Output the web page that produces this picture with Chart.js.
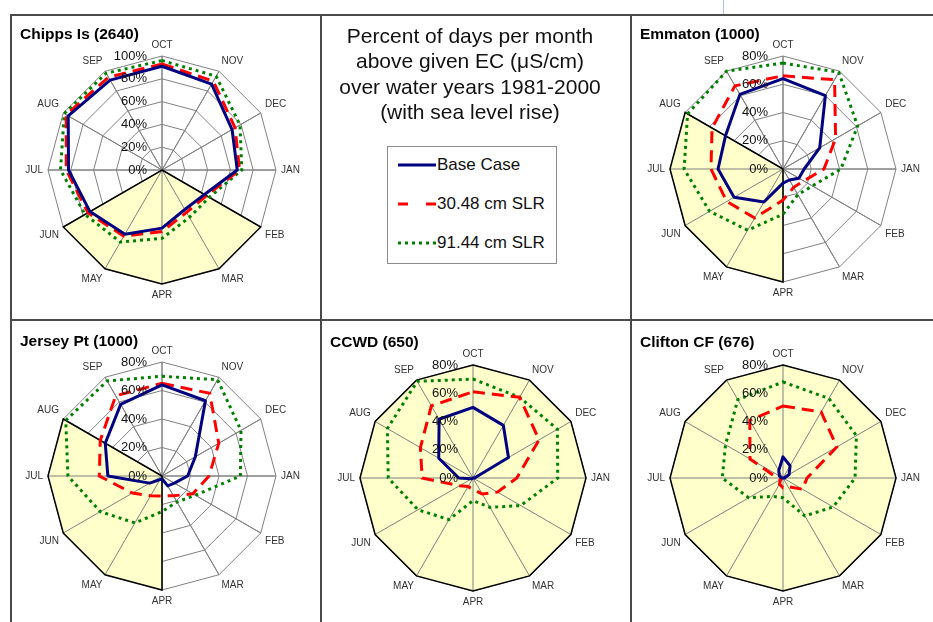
<!DOCTYPE html>
<html>
<head>
<meta charset="utf-8">
<script src="https://cdn.jsdelivr.net/npm/chart.js@4.4.1/dist/chart.umd.min.js"></script>
<style>
  body { margin: 0; background: #fff; font-family: Arial, "Liberation Sans", sans-serif; }
  #page { position: relative; width: 933px; height: 622px; overflow: hidden; }
  .ln { position: absolute; background: #4a4a4a; z-index: 2; }
  .title { position: absolute; font-weight: bold; font-size: 15.5px; line-height: 14px; color: #000; white-space: nowrap; z-index: 3; }
  canvas { position: absolute; z-index: 1; }
  #heading { position: absolute; left: 320px; top: 23px; width: 300px; text-align: center;
             font-size: 21px; line-height: 25.3px; color: #111; z-index: 3; }
  #legend { position: absolute; left: 387px; top: 146px; width: 168px; height: 116px;
            border: 1px solid #8c8c8c; background: #fff; z-index: 3; }
  .row { position: absolute; left: 10px; height: 20px; font-size: 17px; line-height: 20px; color: #111; white-space: nowrap; }
  .row svg { position: absolute; left: 0; top: 0; }
  .row span { position: absolute; left: 39px; top: 0; }
</style>
</head>
<body>
<div id="page">
  <div style="position:absolute;left:723px;top:0;width:1px;height:14px;background:#a9c4e4"></div>
  <div class="ln" style="left:10px;top:14px;width:923px;height:2px"></div>
  <div class="ln" style="left:10px;top:14px;width:2px;height:608px"></div>
  <div class="ln" style="left:320px;top:14px;width:2px;height:608px"></div>
  <div class="ln" style="left:630px;top:14px;width:2px;height:608px"></div>
  <div class="ln" style="left:10px;top:319px;width:923px;height:2px"></div>

  <div class="title" style="left:20px;top:27px">Chipps Is (2640)</div>
  <div class="title" style="left:640px;top:27px">Emmaton (1000)</div>
  <div class="title" style="left:20px;top:334px">Jersey Pt (1000)</div>
  <div class="title" style="left:330px;top:335px">CCWD (650)</div>
  <div class="title" style="left:640px;top:335px">Clifton CF (676)</div>

  <div id="heading">Percent of days per month<br>above given EC (&mu;S/cm)<br>over water years 1981-2000<br>(with sea level rise)</div>
  <div id="legend"></div>

  <canvas id="chipps" width="322" height="262" style="left:1px;top:39px"></canvas>
  <canvas id="emmaton" width="320" height="260" style="left:623px;top:39px"></canvas>
  <canvas id="jersey" width="322" height="262" style="left:1px;top:345px"></canvas>
  <canvas id="ccwd" width="320" height="260" style="left:313px;top:348px"></canvas>
  <canvas id="clifton" width="320" height="260" style="left:623px;top:348px"></canvas>
</div>

<script>
// months, water year order (OCT at top, clockwise)
const months = ['OCT', 'NOV', 'DEC', 'JAN', 'FEB', 'MAR', 'APR', 'MAY', 'JUN', 'JUL', 'AUG', 'SEP'];
const seriesNames = ['Base Case', '30.48 cm SLR', '91.44 cm SLR'];

// percent of days per month above EC standard
const chippsBase  = [91, 87, 71, 66, 43, 40, 51, 65, 73, 82, 95, 91];
const chipps30    = [93, 90, 74, 68, 45, 43, 54, 67, 75, 84, 97, 94];
const chipps91    = [96, 95, 79, 70, 48, 48, 60, 73, 78, 89, 99, 98];
const chippsShade = [0, 0, 0, 0, 100, 100, 100, 100, 100, 0, 0, 0];

const emmatonBase  = [64, 60, 30, 15, 13, 9, 10, 27, 40, 46, 47, 61];
const emmaton30    = [66, 73, 43, 29, 17, 15, 22, 40, 46, 51, 58, 68];
const emmaton91    = [75, 79, 61, 41, 24, 21, 32, 50, 60, 70, 78, 80];
const emmatonShade = [0, 0, 0, 0, 0, 0, 80, 80, 80, 80, 80, 0];

const jerseyBase  = [64, 61, 27, 18, 10, 8, 2, 3, 10, 38, 46, 58];
const jersey30    = [65, 67, 46, 33, 25, 16, 14, 16, 24, 44, 50, 65];
const jersey91    = [70, 78, 64, 55, 27, 21, 25, 38, 50, 66, 78, 77];
const jerseyShade = [0, 0, 0, 0, 0, 0, 80, 80, 80, 80, 80, 0];

const ccwdBase  = [50, 43, 29, 1, 0, 0, 0, 0, 1, 10, 28, 48];
const ccwd30    = [61, 66, 54, 31, 20, 13, 8, 7, 11, 36, 43, 59];
const ccwd91    = [70, 66, 69, 60, 39, 24, 16, 34, 45, 60, 70, 79];
const ccwdShade = [80, 80, 80, 80, 80, 80, 80, 80, 80, 80, 80, 80];

const cliftonBase  = [15, 10, 5, 1, 0, 0, 0, 0, 0, 1, 3, 6];
const clifton30    = [51, 54, 44, 17, 16, 7, 7, 5, 2, 4, 27, 47];
const clifton91    = [68, 65, 60, 51, 41, 31, 14, 15, 28, 43, 47, 64];
const cliftonShade = [80, 80, 80, 80, 80, 80, 80, 80, 80, 80, 80, 80];

const styles = [
  {color: '#000080', dash: []},
  {color: '#ff0000', dash: [12, 7]},
  {color: '#008000', dash: [3, 4]}
];

// spokes go back on top of the yellow fill (index 4 is drawn first)
const spokePlugin = {
  id: 'spokes',
  afterDatasetDraw(chart, args) {
    if (args.index !== 4) return;
    const s = chart.scales.r, ctx = chart.ctx;
    ctx.save();
    ctx.strokeStyle = '#808080';
    ctx.lineWidth = 1;
    for (let i = 0; i < months.length; i++) {
      const p = s.getPointPosition(i, s.drawingArea);
      ctx.beginPath();
      ctx.moveTo(s.xCenter, s.yCenter);
      ctx.lineTo(p.x, p.y);
      ctx.stroke();
    }
    ctx.restore();
  }
};

// tick labels sit left of the vertical axis, above the lines
const tickPlugin = {
  id: 'tickLabels',
  afterDatasetsDraw(chart) {
    const s = chart.scales.r, ctx = chart.ctx;
    ctx.save();
    ctx.font = '13px Arial, "Liberation Sans", sans-serif';
    ctx.fillStyle = '#111';
    ctx.textAlign = 'right';
    ctx.textBaseline = 'middle';
    s.ticks.forEach(t => {
      ctx.fillText(t.value + '%', s.xCenter - 15, s.yCenter - s.getDistanceFromCenterForValue(t.value));
    });
    ctx.restore();
  }
};

function makeRadar(id, max, base, s30, s91, shade) {
  const vals = [base, s30, s91];
  const datasets = vals.map((d, i) => ({
    label: seriesNames[i],
    data: d,
    borderColor: styles[i].color,
    borderDash: styles[i].dash,
    borderWidth: 3,
    borderJoinStyle: i === 0 ? 'round' : 'miter',
    fill: false,
    pointRadius: 0,
    tension: 0
  }));
  datasets.push({label: 'edge', data: shade, borderColor: '#000', borderWidth: 1.5, fill: false, pointRadius: 0});
  datasets.push({label: 'shade', data: shade, borderColor: 'rgba(0,0,0,0)', borderWidth: 0,
                 backgroundColor: '#ffffcc', fill: 'origin', pointRadius: 0});

  new Chart(document.getElementById(id), {
    type: 'radar',
    data: {labels: months, datasets: datasets},
    options: {
      responsive: false,
      animation: false,
      events: [],
      layout: {padding: 0},
      plugins: {legend: {display: false}, tooltip: {enabled: false}},
      scales: {
        r: {
          min: 0,
          max: max,
          ticks: {stepSize: 20, display: false},
          grid: {color: '#808080', lineWidth: 1},
          angleLines: {color: '#808080', lineWidth: 1},
          pointLabels: {font: {family: 'Arial', size: 10}, color: '#333', padding: 5}
        }
      }
    },
    plugins: [spokePlugin, tickPlugin]
  });
}

makeRadar('chipps', 100, chippsBase, chipps30, chipps91, chippsShade);
makeRadar('emmaton', 80, emmatonBase, emmaton30, emmaton91, emmatonShade);
makeRadar('jersey', 80, jerseyBase, jersey30, jersey91, jerseyShade);
makeRadar('ccwd', 80, ccwdBase, ccwd30, ccwd91, ccwdShade);
makeRadar('clifton', 80, cliftonBase, clifton30, clifton91, cliftonShade);

// legend built from the same series names and styles
const legend = document.getElementById('legend');
seriesNames.forEach((name, i) => {
  const row = document.createElement('div');
  row.className = 'row';
  row.style.top = (8 + i * 39) + 'px';
  const dash = i === 1 ? 'stroke-dasharray="10 18"' : (i === 2 ? 'stroke-dasharray="3 4"' : '');
  row.innerHTML = '<svg width="40" height="20"><line x1="0" y1="10" x2="38" y2="10" stroke="' +
    styles[i].color + '" stroke-width="3" ' + dash + '/></svg><span>' + name + '</span>';
  legend.appendChild(row);
});
</script>
</body>
</html>
